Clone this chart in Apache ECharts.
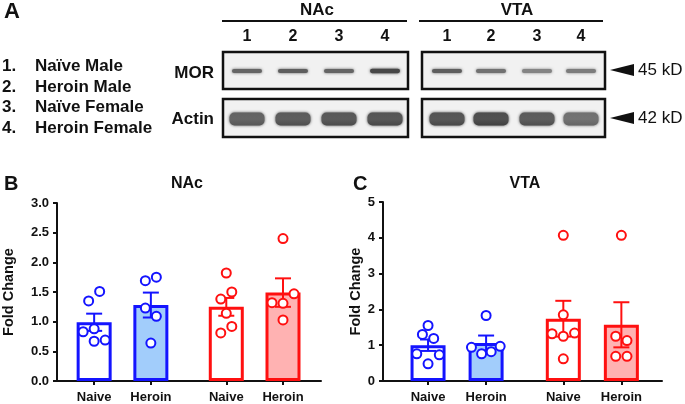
<!DOCTYPE html>
<html><head><meta charset="utf-8">
<script src="https://cdn.jsdelivr.net/npm/echarts@6/dist/echarts.min.js"></script>
<style>html,body{margin:0;padding:0;background:#fff}#c{width:685px;height:404px}</style>
</head><body><div id="c"></div>
<script>
// ---------- data ----------
const groups = ['Naive', 'Heroin', 'Naive', 'Heroin'];
const groupPos = [1, 2, 3.33, 4.33];
const lanes = ['1', '2', '3', '4'];
const legendItems = ['Naïve Male', 'Heroin Male', 'Naïve Female', 'Heroin Female'];

const nacMean = [0.99, 1.28, 1.25, 1.49];
const nacSem = [0.145, 0.21, 0.15, 0.24];
const nacPoints = [
  [1.35, 1.51, 0.83, 0.88, 0.67, 0.69],
  [1.69, 1.75, 1.23, 1.09, 0.64],
  [1.82, 1.50, 1.38, 1.14, 0.92, 0.81],
  [2.40, 1.47, 1.32, 1.31, 1.03]
];
const nacJitter = [
  [-1, 1, -2, 0, 0, 2],
  [-1, 1, -1, 1, 0],
  [0, 1, -1, 0, 1, -1],
  [0, 2, -2, 0, 0]
];

const vtaMean = [1.00, 1.06, 1.74, 1.57];
const vtaSem = [0.16, 0.21, 0.50, 0.63];
const vtaPoints = [
  [1.55, 1.30, 1.19, 0.76, 0.73, 0.48],
  [1.83, 0.94, 0.97, 0.76, 0.82],
  [4.07, 1.85, 1.32, 1.34, 1.25, 0.62],
  [4.07, 1.25, 1.13, 0.69, 0.69]
];
const vtaJitter = [
  [0, -1, 1, -2, 2, 0],
  [0, -2.6, 2.5, -0.8, 0.9],
  [0, 0, -2, 2, 0, 0],
  [0, -1, 1, -1, 1]
];

// blot band intensities (0..1), lanes 1-4
const morNAc = [0.72, 0.76, 0.72, 0.88];
const morVTA = [0.76, 0.66, 0.56, 0.60];
const actinNAc = [0.80, 0.84, 0.86, 0.88];
const actinVTA = [0.88, 0.92, 0.84, 0.72];

// ---------- style ----------
const FONT = '"Liberation Sans", Arial, Helvetica, sans-serif';
const edge = ['#1414ff', '#1414ff', '#ff1010', '#ff1010'];
const fill = ['#ffffff', '#a2cdfb', '#ffffff', '#ffb2b2'];
const JIT = 0.097;

function gray(v) { const g = Math.round(238 - v * 190); return `rgb(${g},${g},${g})`; }

function seriesFor(gi, mean, sem, pts, jit) {
  const scat = [];
  pts.forEach((arr, i) => arr.forEach((v, k) => {
    scat.push({ value: [groupPos[i] + jit[i][k] * JIT, v], itemStyle: { borderColor: edge[i] } });
  }));
  return [
    {
      type: 'bar', xAxisIndex: gi, yAxisIndex: gi, barWidth: 35, z: 2, silent: true,
      data: mean.map((m, i) => ({ value: [groupPos[i], m], itemStyle: { color: fill[i], borderColor: edge[i], borderWidth: 3 } }))
    },
    {
      type: 'custom', xAxisIndex: gi, yAxisIndex: gi, z: 3, silent: true,
      encode: { x: 0, y: 1 },
      data: mean.map((m, i) => [groupPos[i], m, sem[i]]),
      renderItem(params, api) {
        const x = api.value(0), m = api.value(1), s = api.value(2);
        const t = api.coord([x, m + s]), b = api.coord([x, m - s]);
        const c = edge[params.dataIndex];
        const st = { stroke: c, lineWidth: 2 };
        return {
          type: 'group', children: [
            { type: 'line', shape: { x1: t[0], y1: t[1], x2: b[0], y2: b[1] }, style: st },
            { type: 'line', shape: { x1: t[0] - 8, y1: t[1], x2: t[0] + 8, y2: t[1] }, style: st },
            { type: 'line', shape: { x1: b[0] - 8, y1: b[1], x2: b[0] + 8, y2: b[1] }, style: st }
          ]
        };
      }
    },
    {
      type: 'scatter', xAxisIndex: gi, yAxisIndex: gi, z: 4, silent: true,
      symbol: 'circle', symbolSize: 9,
      itemStyle: { color: '#ffffff', borderWidth: 2, opacity: 1 },
      data: scat
    }
  ];
}

function xAxisFor(gi, min, max) {
  return {
    type: 'value', gridIndex: gi, min, max,
    axisLine: { lineStyle: { color: '#111', width: 2 } },
    splitLine: { show: false },
    axisTick: { customValues: groupPos, length: 4, lineStyle: { color: '#111', width: 2 } },
    axisLabel: {
      customValues: groupPos, margin: 10,
      fontFamily: FONT, fontWeight: 'bold', fontSize: 13, color: '#111',
      formatter: v => { let bi = 0; groupPos.forEach((p, i) => { if (Math.abs(p - v) < Math.abs(groupPos[bi] - v)) bi = i; }); return groups[bi]; }
    }
  };
}
function yAxisFor(gi, max, interval, dec, gap) {
  return {
    type: 'value', gridIndex: gi, min: 0, max, interval,
    name: 'Fold Change', nameLocation: 'middle', nameGap: gap, nameRotate: 90,
    nameTextStyle: { fontFamily: FONT, fontWeight: 'bold', fontSize: 14.5, color: '#111' },
    axisLine: { show: true, lineStyle: { color: '#111', width: 2 } },
    splitLine: { show: false },
    axisTick: { show: true, length: 4, lineStyle: { color: '#111', width: 2 } },
    axisLabel: { fontFamily: FONT, fontWeight: 'bold', fontSize: 13, color: '#111', margin: 8, formatter: v => v.toFixed(dec) }
  };
}

// ---------- panel A graphics ----------
const G = [];
function txt(x, y, s, size, weight, align, valign, rot) {
  G.push({ type: 'text', x, y, rotation: rot || 0, style: { text: s, fontFamily: FONT, fontSize: size, fontWeight: weight, fill: '#111', align: align || 'left', verticalAlign: valign || 'middle' } });
}
txt(4, 12, 'A', 22, 'bold');
txt(4, 184, 'B', 20, 'bold');
txt(353, 184, 'C', 20, 'bold');
txt(187, 184, 'NAc', 16, 'bold', 'center');
txt(525, 184, 'VTA', 16, 'bold', 'center');
const legY = [66, 87, 107, 128];
legendItems.forEach((s, i) => { txt(2, legY[i], (i + 1) + '.', 17, 'bold'); txt(35, legY[i], s, 17, 'bold'); });

const blots = [
  { name: 'NAc', x0: 223, x1: 408, lineX0: 222, lineX1: 407, cx: 317, lanesX: [247, 293, 339, 385], mor: morNAc, act: actinNAc },
  { name: 'VTA', x0: 422, x1: 605, lineX0: 419, lineX1: 603, cx: 517, lanesX: [447, 491, 537, 581], mor: morVTA, act: actinVTA }
];
blots.forEach(b => {
  txt(b.cx, 10, b.name, 17, 'bold', 'center');
  G.push({ type: 'line', shape: { x1: b.lineX0, y1: 21, x2: b.lineX1, y2: 21 }, style: { stroke: '#111', lineWidth: 2 } });
  b.lanesX.forEach((lx, i) => txt(lx, 37, lanes[i], 16, 'bold', 'center'));
  [[52, 89], [99, 137]].forEach(([t, bt]) => {
    G.push({ type: 'rect', shape: { x: b.x0, y: t, width: b.x1 - b.x0, height: bt - t }, style: { fill: '#f1f1f1', stroke: '#111', lineWidth: 2.5 } });
  });
  b.lanesX.forEach((lx, i) => {
    const c = gray(b.mor[i]);
    const h = 3 + b.mor[i] * 1.5;
    G.push({ type: 'rect', shape: { x: lx - 15, y: 71 - h / 2, width: 30, height: h, r: h / 2 }, style: { fill: c, shadowBlur: 3, shadowColor: c }, z: 5 });
    const a = gray(b.act[i]);
    const ah = 13;
    G.push({ type: 'rect', shape: { x: lx - 17.5, y: 119 - ah / 2, width: 35, height: ah, r: 5 },
      style: { fill: new echarts.graphic.LinearGradient(0, 0, 0, 1, [{ offset: 0, color: gray(b.act[i] * 0.92) }, { offset: 0.5, color: gray(b.act[i] * 0.9) }, { offset: 1, color: a }]), shadowBlur: 3, shadowColor: a }, z: 5 });
  });
});
txt(214, 73, 'MOR', 17, 'bold', 'right');
txt(214, 119, 'Actin', 17, 'bold', 'right');
[[70, '45 kD'], [118, '42 kD']].forEach(([y, s]) => {
  G.push({ type: 'polygon', shape: { points: [[610, y], [634, y - 6], [634, y + 6]] }, style: { fill: '#111' } });
  txt(638, y, s, 17, 'normal');
});

// ---------- chart ----------
const chart = echarts.init(document.getElementById('c'), null, { renderer: 'canvas' });
chart.setOption({
  animation: false,
  backgroundColor: '#ffffff',
  grid: [
    { left: 51, top: 203, width: 270, height: 180 },
    { left: 383, top: 202, width: 279, height: 180 }
  ],
  xAxis: [xAxisFor(0, 0.345, 5.0), xAxisFor(1, 0.224, 5.03)],
  yAxis: [yAxisFor(0, 3, 0.5, 1, 41), yAxisFor(1, 5, 1, 0, 20)],
  series: [].concat(
    seriesFor(0, nacMean, nacSem, nacPoints, nacJitter),
    seriesFor(1, vtaMean, vtaSem, vtaPoints, vtaJitter)
  ),
  graphic: G
});
</script></body></html>
